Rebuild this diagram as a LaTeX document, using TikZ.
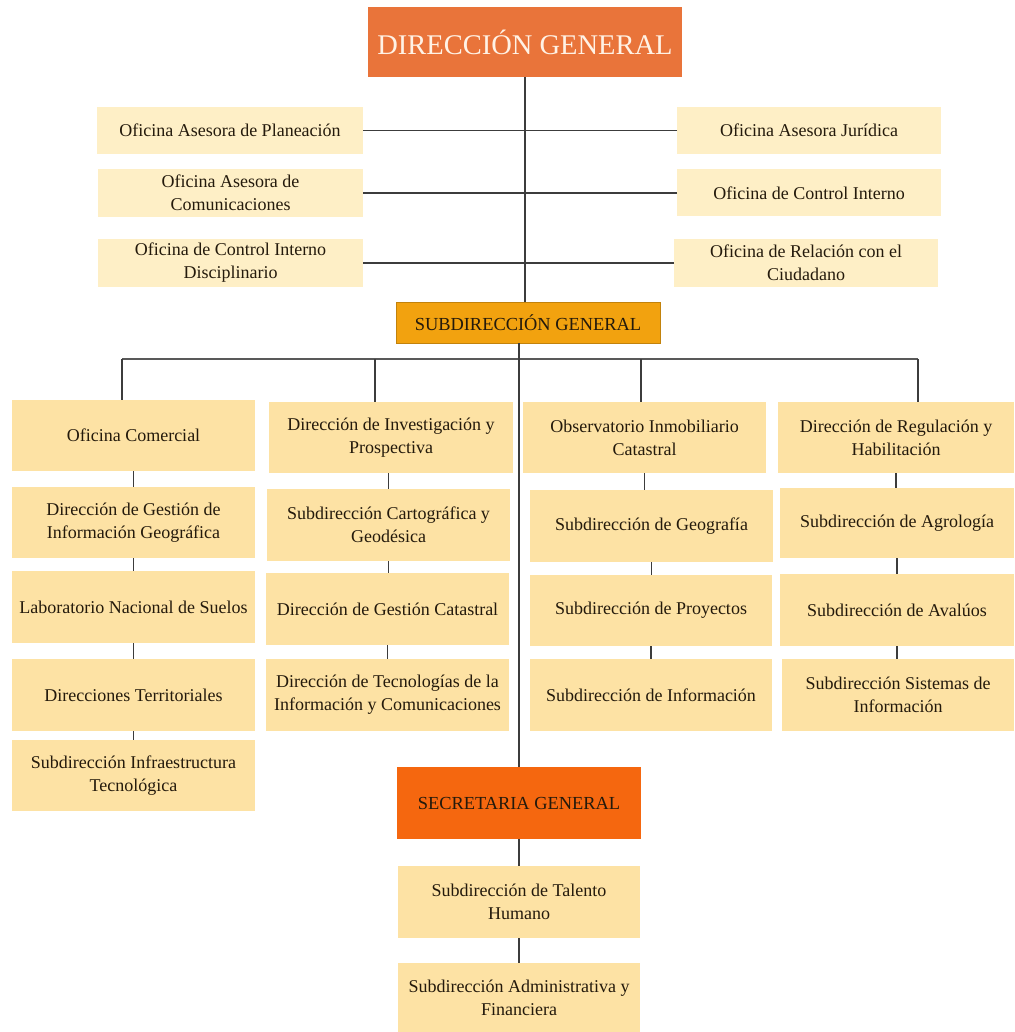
\documentclass[tikz,border=0pt]{standalone}
\usepackage{fontspec}
\setmainfont{Liberation Serif}
\definecolor{dgcol}{HTML}{E9743A}
\definecolor{sgcol}{HTML}{F2A20F}
\definecolor{seccol}{HTML}{F5670F}
\definecolor{advcol}{HTML}{FEEFC6}
\definecolor{boxcol}{HTML}{FDE2A4}
\definecolor{txtcol}{HTML}{241A0C}
\definecolor{linecol}{HTML}{3C3C3C}
\begin{document}
\begin{tikzpicture}[x=1pt,y=-1pt,
  base/.style={inner sep=0pt, outer sep=0pt, align=center, text=txtcol,
    font=\fontsize{18}{23}\selectfont},
  adv/.style={base, fill=advcol},
  unit/.style={base, fill=boxcol},
  head/.style={base, font=\fontsize{18.4}{22}\selectfont},
  conn/.style={draw=linecol, line width=1.3pt},
  bus/.style={draw=linecol!85, line width=2pt}]
\useasboundingbox (0,0) rectangle (1014,1032);
% Top
\node[base, fill=dgcol, minimum width=314pt, minimum height=70pt, text=white!90!orange,
  font=\fontsize{28.5}{30}\selectfont] (dg) at (525,42) {DIRECCIÓN GENERAL};
% advisory offices
\node[adv, minimum width=266pt, minimum height=47pt] (p1) at (230,130.5) {Oficina Asesora de Planeación};
\node[adv, minimum width=265pt, minimum height=48pt] (p2) at (230.5,193) {Oficina Asesora de\\Comunicaciones};
\node[adv, minimum width=265pt, minimum height=48pt] (p3) at (230.5,263) {Oficina de Control Interno\\Disciplinario};
\node[adv, minimum width=264pt, minimum height=47pt] (q1) at (809,130.5) {Oficina Asesora Jurídica};
\node[adv, minimum width=264pt, minimum height=47pt] (q2) at (809,193) {Oficina de Control Interno};
\node[adv, minimum width=264pt, minimum height=48pt] (q3) at (806,263) {Oficina de Relación con el\\Ciudadano};
% subdireccion general
\node[head, fill=sgcol, draw=sgcol!80!black, line width=0.4pt, minimum width=264pt, minimum height=41pt] (sg) at (528,322.5) {SUBDIRECCIÓN GENERAL};
% column 1
\node[unit, minimum width=243pt, minimum height=71pt] (a1) at (133.5,435.5) {Oficina Comercial};
\node[unit, minimum width=243pt, minimum height=71pt] (a2) at (133.5,522.5) {Dirección de Gestión de\\Información Geográfica};
\node[unit, minimum width=243pt, minimum height=72pt] (a3) at (133.5,607) {Laboratorio Nacional de Suelos};
\node[unit, minimum width=243pt, minimum height=72pt] (a4) at (133.5,695) {Direcciones Territoriales};
\node[unit, minimum width=243pt, minimum height=71pt] (a5) at (133.5,775.5) {Subdirección Infraestructura\\Tecnológica};
% column 2
\node[unit, minimum width=244pt, minimum height=71pt] (b1) at (391,437.5) {Dirección de Investigación y\\Prospectiva};
\node[unit, minimum width=243pt, minimum height=72pt] (b2) at (388.5,525) {Subdirección Cartográfica y\\Geodésica};
\node[unit, minimum width=243pt, minimum height=72pt] (b3) at (387.5,609) {Dirección de Gestión Catastral};
\node[unit, minimum width=243pt, minimum height=72pt] (b4) at (387.5,695) {Dirección de Tecnologías de la\\Información y Comunicaciones};
% column 3
\node[unit, minimum width=243pt, minimum height=71pt] (c1) at (644.5,437.5) {Observatorio Inmobiliario\\Catastral};
\node[unit, minimum width=243pt, minimum height=72pt] (c2) at (651.5,526) {Subdirección de Geografía};
\node[unit, minimum width=242pt, minimum height=71pt] (c3) at (651,610.5) {Subdirección de Proyectos};
\node[unit, minimum width=242pt, minimum height=72pt] (c4) at (651,695) {Subdirección de Información};
% column 4
\node[unit, minimum width=236pt, minimum height=71pt] (d1) at (896,437.5) {Dirección de Regulación y\\Habilitación};
\node[unit, minimum width=234pt, minimum height=70pt] (d2) at (897,523) {Subdirección de Agrología};
\node[unit, minimum width=234pt, minimum height=72pt] (d3) at (897,610) {Subdirección de Avalúos};
\node[unit, minimum width=232pt, minimum height=72pt] (d4) at (898,695) {Subdirección Sistemas de\\Información};
% secretaria
\node[head, fill=seccol, minimum width=244pt, minimum height=72pt] (sec) at (519,803) {SECRETARIA GENERAL};
\node[unit, minimum width=242pt, minimum height=72pt] (t1) at (519,902) {Subdirección de Talento\\Humano};
\node[unit, minimum width=242pt, minimum height=69pt] (t2) at (519,997.5) {Subdirección Administrativa y\\Financiera};
% connectors
\coordinate (bl) at (122,359);
\coordinate (br) at (918,359);
\coordinate (dx2) at (375,359);
\coordinate (dx3) at (641,359);
\draw[conn] (dg.south) -- (dg.south |- sg.north);
\draw[conn] (p1.east) -- (dg.south |- p1.east);
\draw[conn] (p2.east) -- (dg.south |- p2.east);
\draw[conn] (p3.east) -- (dg.south |- p3.east);
\draw[conn] (q1.west) -- (dg.south |- q1.west);
\draw[conn] (q2.west) -- (dg.south |- q2.west);
\draw[conn] (q3.west) -- (dg.south |- q3.west);
\draw[bus] (bl) -- (br);
\draw[conn] (bl) -- (bl |- a1.north);
\draw[conn] (dx2) -- (dx2 |- b1.north);
\draw[conn] (dx3) -- (dx3 |- c1.north);
\draw[conn] (br) -- (br |- d1.north);
\draw[conn] (sec.north |- sg.south) -- (sec.north);
\draw[conn] (a1.south) -- (a2.north);
\draw[conn] (a2.south) -- (a3.north);
\draw[conn] (a3.south) -- (a4.north);
\draw[conn] (a4.south) -- (a5.north);
\draw[conn] (b2.north |- b1.south) -- (b2.north);
\draw[conn] (b2.south) -- (b2.south |- b3.north);
\draw[conn] (b3.south) -- (b4.north);
\draw[conn] (c1.south) -- (c1.south |- c2.north);
\draw[conn] (c2.south) -- (c2.south |- c3.north);
\draw[conn] (c3.south) -- (c4.north);
\draw[conn] (d1.south) -- (d1.south |- d2.north);
\draw[conn] (d2.south) -- (d2.south |- d3.north);
\draw[conn] (d3.south) -- (d3.south |- d4.north);
\draw[conn] (sec.south) -- (t1.north);
\draw[conn] (t1.south) -- (t2.north);
\end{tikzpicture}
\end{document}
